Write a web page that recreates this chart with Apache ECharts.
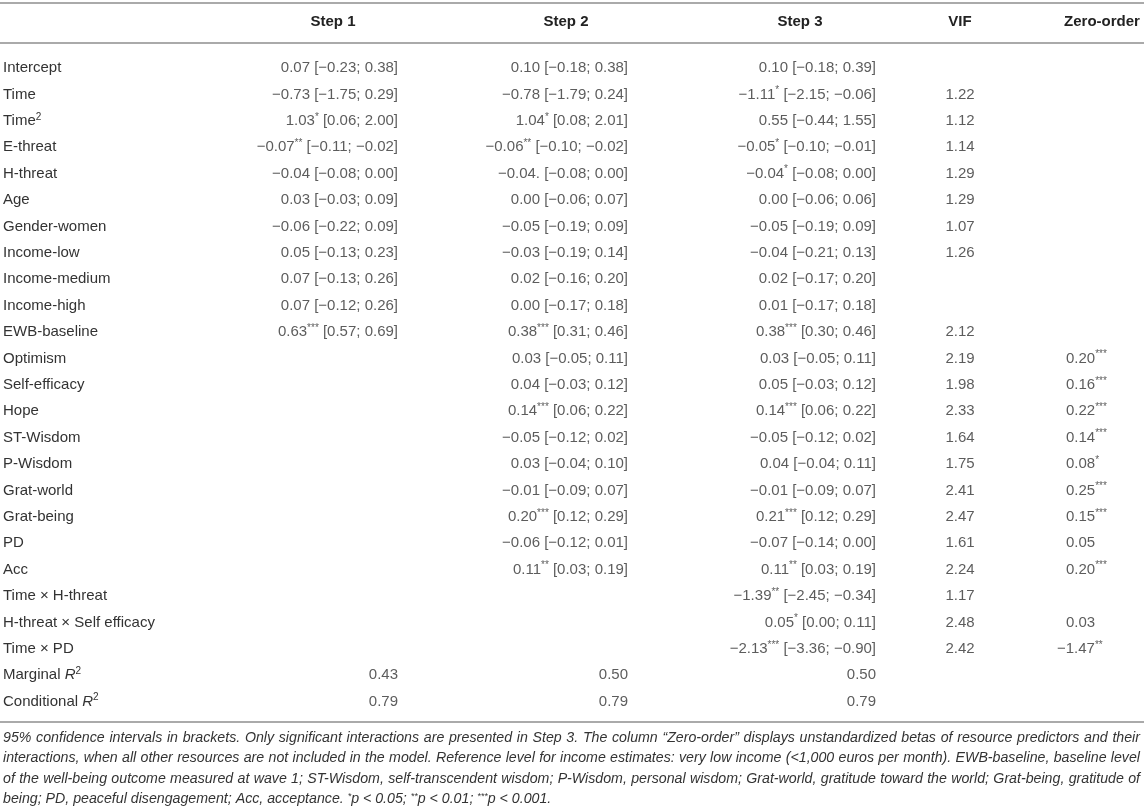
<!DOCTYPE html>
<html>
<head>
<meta charset="utf-8">
<title>Regression table</title>
<script src="https://cdn.jsdelivr.net/npm/echarts@6/dist/echarts.min.js"></script>
<style>
  html, body { margin: 0; padding: 0; background: #fff; }
  #main { width: 1144px; height: 809px; }
</style>
</head>
<body>
<div id="main"></div>
<script>
  // table content
  var rowLabels = ['Intercept', 'Time', 'Time{sup|2}', 'E-threat', 'H-threat', 'Age', 'Gender-women',
    'Income-low', 'Income-medium', 'Income-high', 'EWB-baseline', 'Optimism', 'Self-efficacy', 'Hope',
    'ST-Wisdom', 'P-Wisdom', 'Grat-world', 'Grat-being', 'PD', 'Acc', 'Time \u00d7 H-threat',
    'H-threat \u00d7 Self efficacy', 'Time \u00d7 PD', 'Marginal {it|R}{sup|2}', 'Conditional {it|R}{sup|2}'];

  var columns = ['Step 1', 'Step 2', 'Step 3', 'VIF', 'Zero-order'];

  var step1 = ['0.07 [−0.23; 0.38]', '−0.73 [−1.75; 0.29]', '1.03* [0.06; 2.00]', '−0.07** [−0.11; −0.02]',
    '−0.04 [−0.08; 0.00]', '0.03 [−0.03; 0.09]', '−0.06 [−0.22; 0.09]', '0.05 [−0.13; 0.23]',
    '0.07 [−0.13; 0.26]', '0.07 [−0.12; 0.26]', '0.63*** [0.57; 0.69]', '', '', '', '', '', '', '', '', '',
    '', '', '', '0.43', '0.79'];

  var step2 = ['0.10 [−0.18; 0.38]', '−0.78 [−1.79; 0.24]', '1.04* [0.08; 2.01]', '−0.06** [−0.10; −0.02]',
    '−0.04. [−0.08; 0.00]', '0.00 [−0.06; 0.07]', '−0.05 [−0.19; 0.09]', '−0.03 [−0.19; 0.14]',
    '0.02 [−0.16; 0.20]', '0.00 [−0.17; 0.18]', '0.38*** [0.31; 0.46]', '0.03 [−0.05; 0.11]',
    '0.04 [−0.03; 0.12]', '0.14*** [0.06; 0.22]', '−0.05 [−0.12; 0.02]', '0.03 [−0.04; 0.10]',
    '−0.01 [−0.09; 0.07]', '0.20*** [0.12; 0.29]', '−0.06 [−0.12; 0.01]', '0.11** [0.03; 0.19]',
    '', '', '', '0.50', '0.79'];

  var step3 = ['0.10 [−0.18; 0.39]', '−1.11* [−2.15; −0.06]', '0.55 [−0.44; 1.55]', '−0.05* [−0.10; −0.01]',
    '−0.04* [−0.08; 0.00]', '0.00 [−0.06; 0.06]', '−0.05 [−0.19; 0.09]', '−0.04 [−0.21; 0.13]',
    '0.02 [−0.17; 0.20]', '0.01 [−0.17; 0.18]', '0.38*** [0.30; 0.46]', '0.03 [−0.05; 0.11]',
    '0.05 [−0.03; 0.12]', '0.14*** [0.06; 0.22]', '−0.05 [−0.12; 0.02]', '0.04 [−0.04; 0.11]',
    '−0.01 [−0.09; 0.07]', '0.21*** [0.12; 0.29]', '−0.07 [−0.14; 0.00]', '0.11** [0.03; 0.19]',
    '−1.39** [−2.45; −0.34]', '0.05* [0.00; 0.11]', '−2.13*** [−3.36; −0.90]', '0.50', '0.79'];

  var vif = ['', '1.22', '1.12', '1.14', '1.29', '1.29', '1.07', '1.26', '', '', '2.12', '2.19', '1.98',
    '2.33', '1.64', '1.75', '2.41', '2.47', '1.61', '2.24', '1.17', '2.48', '2.42', '', ''];

  var zeroOrder = ['', '', '', '', '', '', '', '', '', '', '', '0.20***', '0.16***', '0.22***', '0.14***',
    '0.08*', '0.25***', '0.15***', '0.05', '0.20***', '', '0.03', '−1.47**', '', ''];

  var footnote = [
    '95% confidence intervals in brackets. Only significant interactions are presented in Step 3. The column \u201cZero-order\u201d displays unstandardized betas of resource predictors and their',
    'interactions, when all other resources are not included in the model. Reference level for income estimates: very low income (<1,000 euros per month). EWB-baseline, baseline level',
    'of the well-being outcome measured at wave 1; ST-Wisdom, self-transcendent wisdom; P-Wisdom, personal wisdom; Grat-world, gratitude toward the world; Grat-being, gratitude of',
    'being; PD, peaceful disengagement; Acc, acceptance. *p < 0.05; **p < 0.01; ***p < 0.001.'
  ];

  // layout of the table
  var W = 1144, H = 809;
  var rowTop = 54.8, rowH = 26.4;
  var colAnchor = [398, 628, 876, 960, 1066];
  var colPos = ['left', 'left', 'left', 'inside', 'right'];
  var headCenter = [333, 566, 800, 960, 1102];
  var rules = [3, 43, 722];
  var noteTop = 738, noteStep = 20.5, noteLeft = 3, noteRight = 1140;
  var noteFont = 'italic 14.2px "Liberation Sans", Arial, sans-serif';

  var ink = '#333';
  var rich = {
    sup: { fontSize: 10, lineHeight: 10, verticalAlign: 'top', color: ink },
    it: { fontStyle: 'italic', fontSize: 15, color: ink }
  };

  function stars(s) {
    return s.replace(/(\*+)/g, '{sup|$1}');
  }

  var colData = [step1, step2, step3, vif, zeroOrder];

  var series = colData.map(function (col, c) {
    var data = [];
    col.forEach(function (txt, r) {
      if (!txt) return;
      var item = { value: [colAnchor[c], r, txt] };
      // hanging minus in the zero-order column
      if (c === 4 && txt.charAt(0) === '−') item.label = { offset: [-9, 0] };
      data.push(item);
    });
    return {
      type: 'scatter',
      name: columns[c],
      symbolSize: 0,
      silent: true,
      itemStyle: { color: 'transparent' },
      data: data,
      label: {
        show: true,
        position: colPos[c],
        distance: 0,
        fontFamily: 'Liberation Sans, Arial, sans-serif',
        fontSize: 15,
        lineHeight: 18,
        color: ink,
        rich: rich,
        formatter: function (p) { return stars(p.value[2]); }
      }
    };
  });

  var graphics = [];
  rules.forEach(function (y) {
    graphics.push({
      type: 'line', silent: true,
      shape: { x1: 0, y1: y, x2: W, y2: y },
      style: { stroke: '#aaa', lineWidth: 2 }
    });
  });
  columns.forEach(function (name, c) {
    graphics.push({
      type: 'text', silent: true, x: headCenter[c], y: 22,
      style: {
        text: name, fill: '#222', align: 'center', verticalAlign: 'middle',
        font: 'bold 15px "Liberation Sans", Arial, sans-serif'
      }
    });
  });

  // footnote: justified lines, the last one left as is
  var ctx = document.createElement('canvas').getContext('2d');
  ctx.font = noteFont;
  footnote.forEach(function (line, i) {
    var y = noteTop + i * noteStep;
    if (i === footnote.length - 1) {
      graphics.push({
        type: 'text', silent: true, x: noteLeft, y: y,
        style: {
          text: stars(line), fill: ink, align: 'left', verticalAlign: 'middle',
          font: noteFont, lineHeight: 16,
          rich: { sup: { fontSize: 9, lineHeight: 9, verticalAlign: 'top', fontStyle: 'italic', fill: ink } }
        }
      });
      return;
    }
    var words = line.split(' ');
    var widths = words.map(function (w) { return ctx.measureText(w).width; });
    var total = widths.reduce(function (a, b) { return a + b; }, 0);
    var gap = (noteRight - noteLeft - total) / (words.length - 1);
    var x = noteLeft;
    words.forEach(function (w, k) {
      graphics.push({
        type: 'text', silent: true, x: x, y: y,
        style: { text: w, fill: ink, align: 'left', verticalAlign: 'middle', font: noteFont }
      });
      x += widths[k] + gap;
    });
  });

  var chart = echarts.init(document.getElementById('main'));
  chart.setOption({
    backgroundColor: '#fff',
    animation: false,
    textStyle: { fontFamily: 'Liberation Sans, Arial, sans-serif' },
    grid: { left: 0, right: 0, top: rowTop, height: rowH * rowLabels.length },
    xAxis: { type: 'value', min: 0, max: W, show: false },
    yAxis: {
      type: 'category',
      inverse: true,
      data: rowLabels,
      axisLine: { show: false },
      axisTick: { show: false },
      splitLine: { show: false },
      axisLabel: {
        inside: true,
        margin: 3,
        interval: 0,
        fontSize: 15,
        lineHeight: 18,
        color: ink,
        rich: rich
      }
    },
    series: series,
    graphic: graphics
  });
  window.addEventListener('resize', chart.resize);
</script>
</body>
</html>
